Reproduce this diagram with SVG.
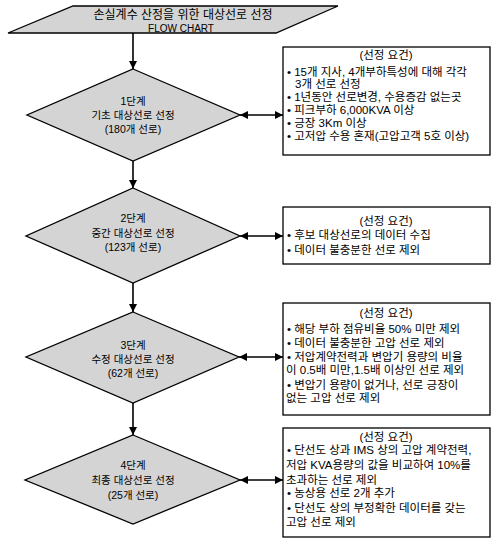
<svg xmlns="http://www.w3.org/2000/svg" width="493" height="543" viewBox="0 0 493 543">
<style>
.shape{fill:#d4d4d4;stroke:#000;stroke-width:1.3}
.box{fill:#fff;stroke:#000;stroke-width:1.3}
.t{font-family:"Liberation Sans","Noto Sans CJK KR",sans-serif;fill:#000}
.title{font-size:12px;text-anchor:middle}
.dt{font-size:10.5px;text-anchor:middle}
.bt{font-size:11.5px}
.bh{font-size:11.5px;text-anchor:middle}
.line{stroke:#000;stroke-width:1.6;fill:none}
</style>
<defs>
<marker id="ah" viewBox="0 0 10 10" refX="10" refY="5" markerWidth="5" markerHeight="5" orient="auto-start-reverse" markerUnits="strokeWidth">
<path d="M0,0 L10,5 L0,10 z" fill="#000"/>
</marker>
</defs>
<rect width="493" height="543" fill="#fff"/>
<g id="connectors">
<line class="line" x1="133" y1="33" x2="133" y2="69" marker-end="url(#ah)"/>
<line class="line" x1="133" y1="161" x2="133" y2="188" marker-end="url(#ah)"/>
<line class="line" x1="133" y1="283" x2="133" y2="312" marker-end="url(#ah)"/>
<line class="line" x1="133" y1="403" x2="133" y2="435" marker-end="url(#ah)"/>
<line class="line" x1="240" y1="115" x2="283" y2="115" marker-start="url(#ah)" marker-end="url(#ah)"/>
<line class="line" x1="240" y1="236" x2="283" y2="236" marker-start="url(#ah)" marker-end="url(#ah)"/>
<line class="line" x1="239" y1="357" x2="283" y2="357" marker-start="url(#ah)" marker-end="url(#ah)"/>
<line class="line" x1="240" y1="480" x2="283" y2="480" marker-start="url(#ah)" marker-end="url(#ah)"/>
</g>
<g id="title">
<polygon class="shape" points="73,6 338,6 276,33 8,33"/>
<text class="t title" x="183" y="18.5">손실계수 산정을 위한 대상선로 선정</text>
<text class="t title" x="181" y="31.5" style="font-size:10px">FLOW CHART</text>
</g>
<g id="step1">
<polygon class="shape" points="133,69 240,115 133,161 27,115"/>
<text class="t dt" x="133" y="105">1단계</text>
<text class="t dt" x="133" y="119">기초 대상선로 선정</text>
<text class="t dt" x="133" y="133">(180개 선로)</text>
</g>
<g id="step2">
<polygon class="shape" points="133,188 240,236 133,283 26,236"/>
<text class="t dt" x="133" y="222">2단계</text>
<text class="t dt" x="133" y="237">중간 대상선로 선정</text>
<text class="t dt" x="133" y="251">(123개 선로)</text>
</g>
<g id="step3">
<polygon class="shape" points="133,312 239,357 133,403 26,357"/>
<text class="t dt" x="133" y="349">3단계</text>
<text class="t dt" x="133" y="363">수정 대상선로 선정</text>
<text class="t dt" x="133" y="377">(62개 선로)</text>
</g>
<g id="step4">
<polygon class="shape" points="133,435 240,480 133,524 25,480"/>
<text class="t dt" x="133" y="469">4단계</text>
<text class="t dt" x="133" y="484">최종 대상선로 선정</text>
<text class="t dt" x="133" y="499">(25개 선로)</text>
</g>
<g id="req1">
<rect class="box" x="283" y="47" width="207" height="108"/>
<text class="t bh" x="386" y="59">(선정 요건)</text>
<text class="t bt" x="287" y="76">• 15개 지사, 4개부하특성에 대해 각각</text>
<text class="t bt" x="295" y="88">3개 선로 선정</text>
<text class="t bt" x="287" y="101">• 1년동안 선로변경, 수용증감 없는곳</text>
<text class="t bt" x="287" y="114">• 피크부하 6,000KVA 이상</text>
<text class="t bt" x="287" y="127">• 긍장 3Km 이상</text>
<text class="t bt" x="287" y="140">• 고저압 수용 혼재(고압고객 5호 이상)</text>
</g>
<g id="req2">
<rect class="box" x="283" y="207" width="207" height="57"/>
<text class="t bh" x="386" y="225">(선정 요건)</text>
<text class="t bt" x="287" y="239">• 후보 대상선로의 데이터 수집</text>
<text class="t bt" x="287" y="254">• 데이터 불충분한 선로 제외</text>
</g>
<g id="req3">
<rect class="box" x="283" y="303" width="207" height="112"/>
<text class="t bh" x="386" y="317">(선정 요건)</text>
<text class="t bt" x="287" y="333">• 해당 부하 점유비율 50% 미만 제외</text>
<text class="t bt" x="287" y="347">• 데이터 불충분한 고압 선로 제외</text>
<text class="t bt" x="287" y="361">• 저압계약전력과 변압기 용량의 비율</text>
<text class="t bt" x="286" y="374">이 0.5배 미만,1.5배 이상인 선로 제외</text>
<text class="t bt" x="287" y="389">• 변압기 용량이 없거나, 선로 긍장이</text>
<text class="t bt" x="286" y="402">없는 고압 선로 제외</text>
</g>
<g id="req4">
<rect class="box" x="283" y="428" width="207" height="109"/>
<text class="t bh" x="386" y="441">(선정 요건)</text>
<text class="t bt" x="287" y="454">• 단선도 상과 IMS 상의 고압 계약전력,</text>
<text class="t bt" x="286" y="469">저압 KVA용량의 값을 비교하여 10%를</text>
<text class="t bt" x="286" y="484">초과하는 선로 제외</text>
<text class="t bt" x="287" y="497">• 농상용 선로 2개 추가</text>
<text class="t bt" x="287" y="512">• 단선도 상의 부정확한 데이터를 갖는</text>
<text class="t bt" x="286" y="526">고압 선로 제외</text>
</g>
</svg>
